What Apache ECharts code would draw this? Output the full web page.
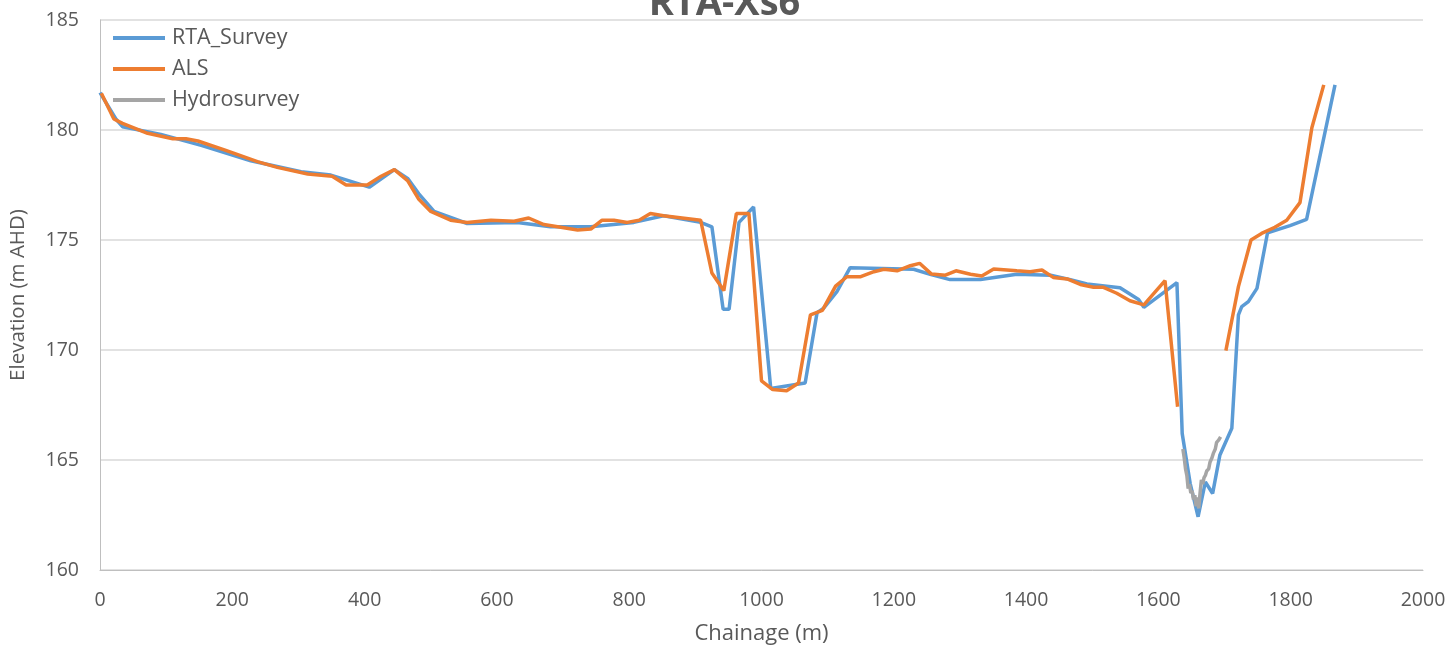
<!DOCTYPE html>
<html>
<head>
<meta charset="utf-8">
<script src="https://cdn.jsdelivr.net/npm/echarts@6/dist/echarts.min.js"></script>
<style>
  html, body { margin: 0; padding: 0; background: #fff; }
  #main { width: 1449px; height: 652px; }
</style>
</head>
<body>
<div id="main"></div>
<script>
  // RTA_Survey
  var rtaChainage = [0, 24, 34, 92, 153, 228, 304, 349, 407, 445, 465, 482, 505, 555, 631, 681, 742, 807, 852, 908,
    925, 942, 951, 966, 988, 1014, 1066, 1084, 1094, 1114, 1134, 1230, 1255, 1285, 1331, 1386, 1437, 1467, 1492, 1542,
    1570, 1578, 1628, 1636, 1648, 1660, 1671, 1682, 1693, 1711, 1721, 1726, 1736, 1749, 1765, 1799, 1824, 1867]
  var rtaElev = [181.7, 180.5, 180.15, 179.8, 179.3, 178.6, 178.1, 177.95, 177.4, 178.2, 177.8, 177.1, 176.3, 175.75, 175.8, 175.6, 175.6, 175.8, 176.1, 175.8,
    175.6, 171.85, 171.85, 175.8, 176.5, 168.25, 168.5, 171.7, 171.9, 172.65, 173.74, 173.67, 173.44, 173.2, 173.2, 173.44, 173.4, 173.2, 173.0, 172.83,
    172.3, 171.94, 173.06, 166.2, 163.94, 162.42, 164.0, 163.48, 165.23, 166.44, 171.6, 171.97, 172.2, 172.8, 175.33, 175.65, 175.94, 182.05]

  // ALS (null = gap)
  var alsChainage = [2, 21, 34, 72, 110, 130, 148, 188, 238, 268, 314, 351, 372, 404, 425, 445, 465, 482, 500, 530,
    555, 591, 626, 648, 671, 722, 742, 759, 777, 797, 815, 832, 852, 908, 925, 943, 962, 981, 1000, 1017,
    1038, 1056, 1074, 1092, 1112, 1129, 1150, 1170, 1185, 1205, 1225, 1239, 1257, 1278, 1294, 1316, 1333, 1351, 1386, 1406,
    1424, 1441, 1462, 1482, 1502, 1517, 1537, 1557, 1578, 1610, 1629, 1665, 1702, 1721, 1740, 1756, 1776, 1794, 1814, 1832, 1850]
  var alsElev = [181.67, 180.5, 180.3, 179.85, 179.6, 179.6, 179.5, 179.1, 178.56, 178.3, 178.0, 177.9, 177.5, 177.5, 177.9, 178.2, 177.7, 176.85, 176.3, 175.9,
    175.8, 175.9, 175.85, 176.0, 175.7, 175.45, 175.5, 175.9, 175.9, 175.8, 175.9, 176.2, 176.1, 175.9, 173.5, 172.7, 176.2, 176.2, 168.6, 168.2,
    168.15, 168.5, 171.6, 171.8, 172.9, 173.33, 173.33, 173.56, 173.67, 173.6, 173.83, 173.94, 173.45, 173.4, 173.6, 173.44, 173.36, 173.68, 173.6, 173.56,
    173.64, 173.3, 173.23, 172.98, 172.85, 172.85, 172.58, 172.24, 172.05, 173.15, 167.42, null, 169.97, 172.88, 175.0, 175.3, 175.58, 175.9, 176.7, 180.1, 182.05]

  // Hydrosurvey
  var hydroChainage = [1637, 1639, 1641, 1643, 1645, 1647, 1649, 1651, 1653, 1655, 1657, 1659, 1661, 1663, 1665, 1667, 1669, 1671, 1673, 1676, 1678, 1681, 1683, 1686, 1688, 1691, 1694]
  var hydroElev = [165.5, 165.1, 164.6, 164.3, 163.7, 163.9, 163.5, 163.6, 163.2, 163.4, 162.9, 163.3, 162.8, 163.5, 164.1, 163.9, 164.2, 164.3, 164.5, 164.6, 164.9, 165.1, 165.3, 165.5, 165.8, 165.9, 166.05]

  function pairs (xs, ys) {
    return xs.map((x, i) => [x, ys[i] === null ? '-' : ys[i]])
  }

  var chart = echarts.init(document.getElementById('main'))
  var font = 'Open Sans, Liberation Sans, sans-serif'
  var axisText = { color: '#595959', fontSize: 19.5, fontFamily: font }

  var option = {
    animation: false,
    title: {
      text: 'RTA-Xs6',
      left: 'center',
      top: -20,
      textStyle: { color: '#595959', fontSize: 38, fontWeight: 'bold', fontFamily: font }
    },
    legend: {
      orient: 'vertical',
      left: 108,
      top: 22,
      itemWidth: 52,
      itemHeight: 4,
      itemGap: 9,
      icon: 'rect',
      textStyle: { color: '#595959', fontSize: 21.5, fontFamily: font, padding: [0, 0, 0, 2] },
      data: ['RTA_Survey', 'ALS', 'Hydrosurvey']
    },
    grid: { left: 99, right: 26, top: 20, bottom: 82 },
    xAxis: {
      type: 'value',
      min: 0,
      max: 2000,
      interval: 200,
      name: 'Chainage (m)',
      nameLocation: 'middle',
      nameGap: 53,
      nameTextStyle: { color: '#595959', fontSize: 22, fontFamily: font },
      axisLine: { show: true, lineStyle: { color: '#bfbfbf', width: 1 } },
      axisTick: { show: false },
      splitLine: { show: false },
      axisLabel: Object.assign({ margin: 20, formatter: v => String(v) }, axisText)
    },
    yAxis: {
      type: 'value',
      min: 160,
      max: 185,
      interval: 5,
      name: 'Elevation (m AHD)',
      nameLocation: 'middle',
      nameGap: 71,
      nameTextStyle: { color: '#595959', fontSize: 20.5, fontFamily: font },
      axisLine: { show: true, lineStyle: { color: '#bfbfbf', width: 1 } },
      axisTick: { show: false },
      splitLine: { show: true, lineStyle: { color: '#d9d9d9', width: 1.5 } },
      axisLabel: Object.assign({ margin: 21 }, axisText)
    },
    series: [{
      name: 'RTA_Survey',
      type: 'line',
      data: pairs(rtaChainage, rtaElev),
      showSymbol: false,
      symbol: 'none',
      lineStyle: { color: '#5b9bd5', width: 3.5 },
      itemStyle: { color: '#5b9bd5' }
    }, {
      name: 'ALS',
      type: 'line',
      data: pairs(alsChainage, alsElev),
      showSymbol: false,
      symbol: 'none',
      connectNulls: false,
      lineStyle: { color: '#ed7d31', width: 3.5 },
      itemStyle: { color: '#ed7d31' }
    }, {
      name: 'Hydrosurvey',
      type: 'line',
      data: pairs(hydroChainage, hydroElev),
      showSymbol: false,
      symbol: 'none',
      lineStyle: { color: '#a5a5a5', width: 3.5 },
      itemStyle: { color: '#a5a5a5' }
    }]
  }
  chart.setOption(option)
  window.onresize = function () {
    chart.resize()
  }
</script>
</body>
</html>
